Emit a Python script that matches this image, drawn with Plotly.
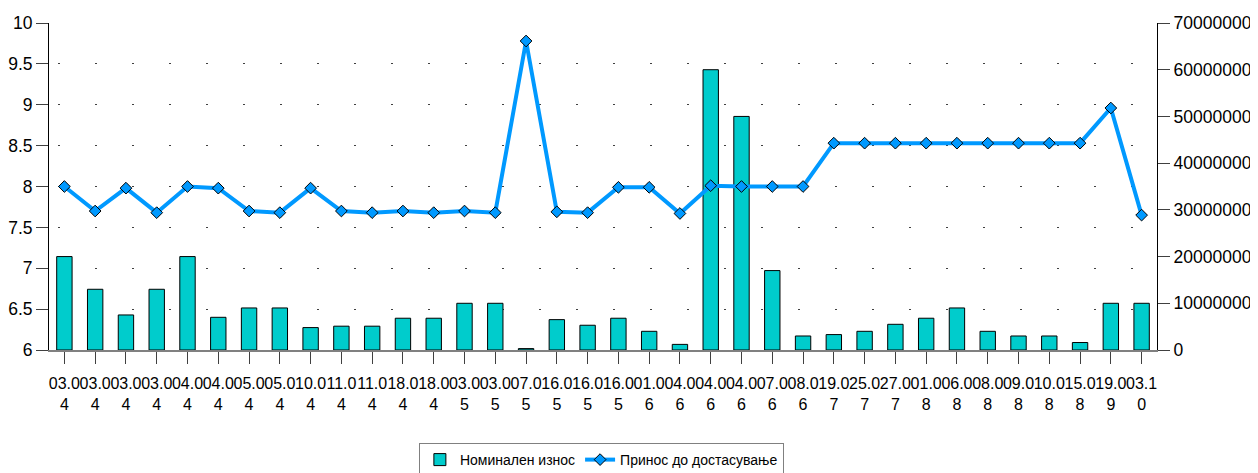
"""
Номинален износ и принос до достасување
"""
import plotly.graph_objects as go

# датуми на аукциите (дд.мм)
dates = ['03.04', '03.04', '03.04', '03.04', '04.04', '04.04', '05.04', '05.04',
         '10.04', '11.04', '11.04', '18.04', '18.04', '03.05', '03.05', '07.05',
         '16.05', '16.05', '16.05', '01.06', '04.06', '04.06', '04.06', '07.06',
         '08.06', '19.07', '25.07', '27.07', '01.08', '06.08', '08.08', '09.08',
         '10.08', '15.08', '19.09', '03.10']

# номинален износ (десна оска)
nominal = [20000000, 13000000, 7500000, 13000000, 20000000, 7000000, 9000000, 9000000,
           4800000, 5100000, 5100000, 6800000, 6800000, 10000000, 10000000, 300000,
           6500000, 5300000, 6800000, 4000000, 1200000, 60000000, 50000000, 17000000,
           3000000, 3300000, 4000000, 5500000, 6800000, 9000000, 4000000, 3000000,
           3000000, 1600000, 10000000, 10000000]

# принос до достасување (лева оска)
yield_ = [8.00, 7.70, 7.98, 7.68, 8.00, 7.98, 7.70, 7.68,
          7.98, 7.70, 7.68, 7.70, 7.68, 7.70, 7.68, 9.78,
          7.69, 7.68, 7.99, 7.99, 7.67, 8.01, 8.00, 8.00,
          8.00, 8.53, 8.53, 8.53, 8.53, 8.53, 8.53, 8.53,
          8.53, 8.53, 8.96, 7.65]

left_ticks = [6, 6.5, 7, 7.5, 8, 8.5, 9, 9.5, 10]
right_ticks = [0, 10000000, 20000000, 30000000, 40000000, 50000000, 60000000, 70000000]

x = list(range(len(dates)))
tick_text = [d[:4] + '<br>' + d[4:] for d in dates]

fig = go.Figure()

# столбови - номинален износ
fig.add_trace(go.Bar(
    x=x,
    y=nominal,
    name='Номинален износ',
    width=0.5,
    marker=dict(color='#00CCCC', line=dict(color='black', width=1)),
    yaxis='y'
))

# линија - принос
fig.add_trace(go.Scatter(
    x=x,
    y=yield_,
    mode='lines+markers',
    name='Принос до достасување',
    line=dict(color='#0099FF', width=4),
    marker=dict(symbol='diamond', size=9, color='#0099FF',
                line=dict(color='black', width=1)),
    yaxis='y2'
))

# тенка рамка на десниот раб
fig.add_shape(type='line', xref='paper', yref='paper',
              x0=1.0903, x1=1.0903, y0=-0.4, y1=1.08,
              line=dict(color='#33CCCC', width=1))

# страницата има 8px маргина, затоа фигурата е помала
fig.update_layout(
    width=1250,
    height=465,
    margin=dict(l=41, r=101, t=15, b=123),
    plot_bgcolor='white',
    paper_bgcolor='white',
    font=dict(family='Liberation Sans, Arial, sans-serif', color='black', size=17.5),
    bargap=0.5,
    showlegend=True,
    legend=dict(
        orientation='h',
        xref='container', yref='container',
        x=0.4747, xanchor='center',
        y=0.0645, yanchor='top',
        font=dict(size=14),
        bordercolor='#808080',
        borderwidth=1,
        itemwidth=30,
        tracegroupgap=0
    ),
    xaxis=dict(
        range=[-0.5, len(dates) - 0.5],
        tickmode='array',
        tickvals=x,
        ticktext=tick_text,
        tickangle=0,
        tickfont=dict(size=16),
        ticks='outside',
        ticklen=12,
        ticklabelstandoff=6,
        tickcolor='#404040',
        showline=True,
        linecolor='#808080',
        linewidth=2,
        showgrid=False,
        zeroline=False,
        automargin=False
    ),
    yaxis=dict(
        side='right',
        range=[0, 70000000],
        tickmode='array',
        tickvals=right_ticks,
        ticktext=[str(v) for v in right_ticks],
        ticks='outside',
        ticklen=12,
        tickcolor='#404040',
        showline=True,
        linecolor='black',
        linewidth=1,
        showgrid=False,
        zeroline=False,
        automargin=False
    ),
    yaxis2=dict(
        side='left',
        overlaying='y',
        range=[6, 10],
        tickmode='array',
        tickvals=left_ticks,
        ticktext=[f'{v:g}' for v in left_ticks],
        ticks='outside',
        ticklen=12,
        tickcolor='#404040',
        showline=True,
        linecolor='black',
        linewidth=1,
        showgrid=True,
        gridcolor='#404040',
        gridwidth=1,
        griddash='0px,9px,2px,26px',
        zeroline=False,
        automargin=False
    )
)

fig.write_html("out.html")
